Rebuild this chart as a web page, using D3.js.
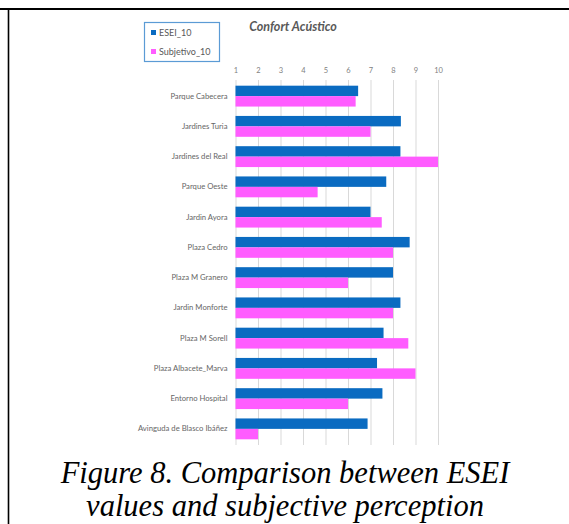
<!DOCTYPE html>
<html>
<head>
<meta charset="utf-8">
<script src="https://cdn.jsdelivr.net/npm/d3@7"></script>
<style>
  html, body { margin: 0; padding: 0; background: #fff; overflow: hidden; }
  svg { display: block; }
</style>
</head>
<body>
<div id="chart"></div>
<script>
const categories = [
  'Parque Cabecera', 'Jardines Turia', 'Jardines del Real', 'Parque Oeste',
  'Jardin Ayora', 'Plaza Cedro', 'Plaza M Granero', 'Jardin Monforte',
  'Plaza M Sorell', 'Plaza Albacete_Marva', 'Entorno Hospital',
  'Avinguda de Blasco Ibáñez'
];
const esei10 = [6.45, 8.35, 8.33, 7.7, 7.0, 8.74, 8.0, 8.33, 7.58, 7.29, 7.53, 6.87];
const subjetivo10 = [6.34, 7.0, 10.0, 4.65, 7.5, 8.0, 6.0, 8.0, 8.68, 9.0, 6.0, 2.0];
const seriesNames = ['ESEI_10', 'Subjetivo_10'];
const xTicks = [1, 2, 3, 4, 5, 6, 7, 8, 9, 10];
const chartTitle = 'Confort Acústico';
const caption = ['Figure 8. Comparison between ESEI', 'values and subjective perception'];

const width = 569;
const height = 524;
const colors = ['#0a6bc1', '#ff5cff'];
const margin = { left: 235.5, right: 131, top: 81, bottom: 80 };
const labelFont = 'Lato, "Open Sans", sans-serif';

const svg = d3.select('#chart')
  .append('svg')
  .attr('width', width)
  .attr('height', height);

// frame lines of the figure: top rule and left rule
svg.append('rect')
  .attr('x', 0).attr('y', 8)
  .attr('width', width).attr('height', 2)
  .attr('fill', '#000');
svg.append('rect')
  .attr('x', 7.7).attr('y', 9)
  .attr('width', 1.6).attr('height', height - 9)
  .attr('fill', '#000');

const x = d3.scaleLinear()
  .domain([1, 10])
  .range([margin.left, width - margin.right]);

const y = d3.scaleBand()
  .domain(categories)
  .range([margin.top, height - margin.bottom])
  .paddingInner(0.31)
  .paddingOuter(0.155);

const ySub = d3.scaleBand()
  .domain(seriesNames)
  .range([0, y.bandwidth()]);

// gridlines
svg.append('g')
  .selectAll('line')
  .data(xTicks)
  .enter()
    .append('line')
    .attr('x1', (d) => x(d) + 0.5)
    .attr('x2', (d) => x(d) + 0.5)
    .attr('y1', margin.top - 1)
    .attr('y2', height - margin.bottom + 1)
    .attr('stroke', '#d9d9d9')
    .attr('stroke-width', 1);

// top axis labels
const xAxis = d3.axisTop(x)
  .tickValues(xTicks)
  .tickSize(0)
  .tickPadding(0)
  .tickFormat(d3.format('d'));

const gx = svg.append('g')
  .attr('transform', 'translate(0, 73)')
  .call(xAxis);
gx.select('.domain').remove();
gx.selectAll('text')
  .attr('fill', '#7f7f7f')
  .attr('font-family', labelFont)
  .attr('font-size', 7.5);

// category labels
const yAxis = d3.axisLeft(y).tickSize(0).tickPadding(8);
const gy = svg.append('g')
  .attr('transform', `translate(${margin.left}, 0)`)
  .call(yAxis);
gy.select('.domain').remove();
gy.selectAll('text')
  .attr('fill', '#666')
  .attr('font-family', labelFont)
  .attr('font-size', 7.7);

// bars
const rows = categories.map((c, i) => ({ cat: c, values: [esei10[i], subjetivo10[i]] }));

const group = svg.append('g')
  .selectAll('g')
  .data(rows)
  .enter()
    .append('g')
    .attr('transform', (d) => `translate(0, ${y(d.cat)})`);

group.selectAll('rect')
  .data((d) => d.values.map((v, k) => ({ v, k })))
  .enter()
    .append('rect')
    .attr('x', x(1))
    .attr('y', (d) => ySub(seriesNames[d.k]))
    .attr('width', (d) => x(d.v) - x(1))
    .attr('height', ySub.bandwidth())
    .attr('fill', (d) => colors[d.k]);

// title
svg.append('text')
  .attr('x', 293)
  .attr('y', 31)
  .attr('text-anchor', 'middle')
  .attr('fill', '#595959')
  .attr('font-family', labelFont)
  .attr('font-size', 12.5)
  .attr('font-weight', 'bold')
  .attr('font-style', 'italic')
  .text(chartTitle);

// legend
const legend = svg.append('g').attr('transform', 'translate(144, 22)');
legend.append('rect')
  .attr('x', 0.5).attr('y', 0.5)
  .attr('width', 75).attr('height', 39)
  .attr('fill', '#fff')
  .attr('stroke', '#5b9bd5')
  .attr('stroke-width', 1.2);

const legendCell = legend.selectAll('g.item')
  .data(seriesNames)
  .enter()
    .append('g')
    .attr('class', 'item')
    .attr('transform', (d, i) => `translate(7, ${8 + i * 19})`);

legendCell.append('rect')
  .attr('width', 5).attr('height', 5)
  .attr('fill', (d, i) => colors[i]);

legendCell.append('text')
  .attr('x', 8)
  .attr('y', 6)
  .attr('fill', '#595959')
  .attr('font-family', labelFont)
  .attr('font-size', 9)
  .text((d) => d);

// figure caption
svg.append('g')
  .selectAll('text')
  .data(caption)
  .enter()
    .append('text')
    .attr('x', 285)
    .attr('y', (d, i) => 483 + i * 33)
    .attr('text-anchor', 'middle')
    .attr('fill', '#000')
    .attr('font-family', '"Liberation Serif", "Times New Roman", serif')
    .attr('font-size', 30.5)
    .attr('font-style', 'italic')
    .text((d) => d);
</script>
</body>
</html>
